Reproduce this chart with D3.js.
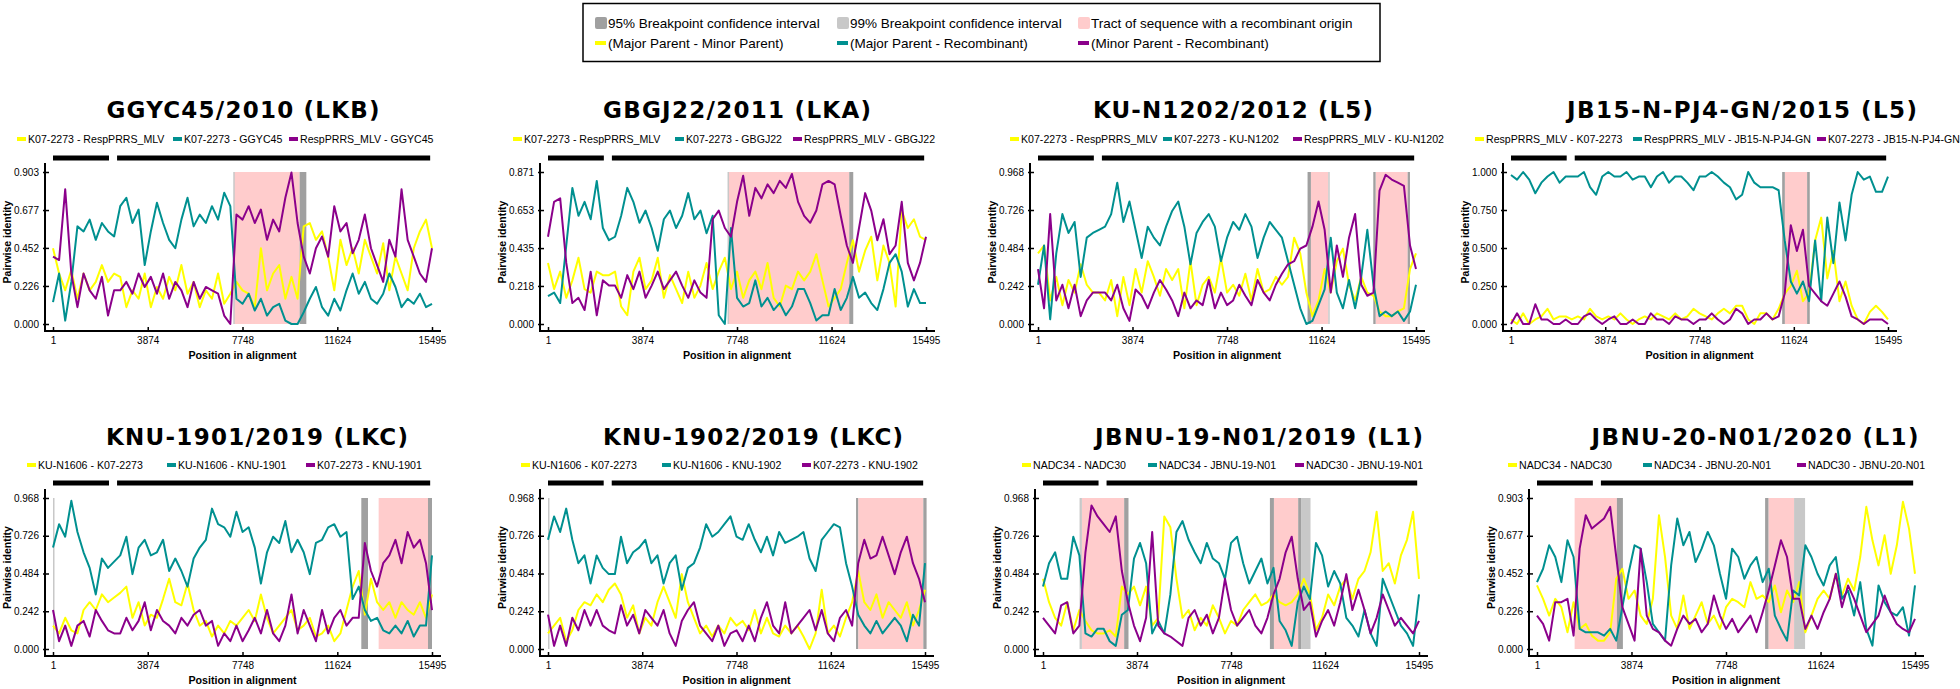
<!DOCTYPE html>
<html><head><meta charset="utf-8">
<script src="https://cdn.jsdelivr.net/npm/d3@7"></script>
<style>body{margin:0;background:#fff}svg{display:block}</style>
</head><body>
<script>
// ---------------- DATA ----------------
const POS = [1,250,500,750,1000,1250,1500,1750,2000,2250,2500,2750,3000,3250,3500,3750,4000,4250,4500,4750,5000,5250,5500,5750,6000,6250,6500,6750,7000,7250,7500,7750,8000,8250,8500,8750,9000,9250,9500,9750,10000,10250,10500,10750,11000,11250,11500,11750,12000,12250,12500,12750,13000,13250,13500,13750,14000,14250,14500,14750,15000,15250,15495];
const X_TICKS = [1,3874,7748,11624,15495];
const TITLES = ["GGYC45/2010 (LKB)","GBGJ22/2011 (LKA)","KU-N1202/2012 (L5)","JB15-N-PJ4-GN/2015 (L5)","KNU-1901/2019 (LKC)","KNU-1902/2019 (LKC)","JBNU-19-N01/2019 (L1)","JBNU-20-N01/2020 (L1)"];
const PAIR_LABELS = [
 ["K07-2273 - RespPRRS_MLV","K07-2273 - GGYC45","RespPRRS_MLV - GGYC45"],
 ["K07-2273 - RespPRRS_MLV","K07-2273 - GBGJ22","RespPRRS_MLV - GBGJ22"],
 ["K07-2273 - RespPRRS_MLV","K07-2273 - KU-N1202","RespPRRS_MLV - KU-N1202"],
 ["RespPRRS_MLV - K07-2273","RespPRRS_MLV - JB15-N-PJ4-GN","K07-2273 - JB15-N-PJ4-GN"],
 ["KU-N1606 - K07-2273","KU-N1606 - KNU-1901","K07-2273 - KNU-1901"],
 ["KU-N1606 - K07-2273","KU-N1606 - KNU-1902","K07-2273 - KNU-1902"],
 ["NADC34 - NADC30","NADC34 - JBNU-19-N01","NADC30 - JBNU-19-N01"],
 ["NADC34 - NADC30","NADC34 - JBNU-20-N01","NADC30 - JBNU-20-N01"]
];
const Y_TICKS = [
 [0,0.226,0.452,0.677,0.903],
 [0,0.218,0.435,0.653,0.871],
 [0,0.242,0.484,0.726,0.968],
 [0,0.25,0.5,0.75,1.0],
 [0,0.242,0.484,0.726,0.968],
 [0,0.242,0.484,0.726,0.968],
 [0,0.242,0.484,0.726,0.968],
 [0,0.226,0.452,0.677,0.903]
];
const SEQ_BARS = [[1,2290],[2620,15420]];
const REGIONS = [
 [["tract",7400,10084],["ci99",7370,7420],["ci95",10084,10357]],
 [["tract",7385,12349],["ci99",7360,7400],["ci95",12349,12513]],
 [["tract",11187,11897],["ci95",11050,11187],["ci99",11897,11950],["tract",13840,15153],["ci95",13744,13840],["ci95",15153,15248]],
 [["tract",11255,12171],["ci95",11146,11255],["ci95",12171,12280]],
 [["ci99",1,60],["ci95",12605,12878],["tract",13314,15331],["ci95",15331,15495]],
 [["ci99",1,50],["ci95",12661,12757],["tract",12757,15426],["ci95",15426,15560]],
 [["tract",1604,3346],["ci99",1508,1604],["ci95",3346,3524],["tract",9516,10517],["ci95",9351,9516],["ci95",10517,10654],["ci99",10654,11024]],
 [["tract",1543,3276],["ci95",3276,3522],["tract",9488,10539],["ci95",9351,9488],["ci99",10539,10989]]
];
const LEGEND_TOP_ROW1 = [["ci95","95% Breakpoint confidence interval"],["ci99","99% Breakpoint confidence interval"],["tract","Tract of sequence with a recombinant origin"]];
const LEGEND_TOP_ROW2 = ["(Major Parent - Minor Parent)","(Major Parent - Recombinant)","(Minor Parent - Recombinant)"];

const P1_YELLOW=[0.45,0.30,0.20,0.32,0.15,0.30,0.20,0.25,0.35,0.25,0.30,0.28,0.10,0.20,0.15,0.30,0.10,0.22,0.15,0.28,0.20,0.35,0.18,0.25,0.10,0.20,0.15,0.30,0.12,0.18,0.25,0.20,0.18,0.10,0.45,0.20,0.30,0.35,0.15,0.28,0.15,0.58,0.60,0.50,0.55,0.40,0.20,0.50,0.35,0.45,0.30,0.50,0.40,0.30,0.48,0.20,0.40,0.30,0.20,0.45,0.55,0.62,0.45];
const P1_TEAL=[0.13,0.30,0.02,0.25,0.58,0.55,0.62,0.50,0.60,0.55,0.52,0.70,0.75,0.60,0.68,0.35,0.55,0.72,0.60,0.50,0.45,0.62,0.75,0.58,0.65,0.60,0.70,0.62,0.78,0.70,0.15,0.12,0.18,0.08,0.15,0.05,0.10,0.12,0.02,0.00,0.00,0.07,0.15,0.22,0.10,0.05,0.15,0.08,0.20,0.30,0.18,0.25,0.15,0.12,0.18,0.30,0.22,0.10,0.15,0.12,0.18,0.10,0.12];
const P1_PURPLE=[0.40,0.38,0.80,0.30,0.10,0.30,0.20,0.15,0.28,0.05,0.20,0.20,0.25,0.18,0.30,0.22,0.28,0.18,0.30,0.15,0.25,0.20,0.10,0.25,0.15,0.22,0.20,0.18,0.05,0.00,0.65,0.62,0.70,0.60,0.68,0.50,0.62,0.55,0.75,0.90,0.60,0.40,0.30,0.45,0.52,0.40,0.70,0.55,0.60,0.42,0.50,0.65,0.45,0.35,0.25,0.50,0.40,0.80,0.50,0.40,0.30,0.25,0.45];

const P2_YELLOW=[0.35,0.20,0.30,0.15,0.25,0.38,0.20,0.18,0.30,0.28,0.28,0.30,0.10,0.05,0.30,0.38,0.20,0.25,0.38,0.15,0.28,0.20,0.12,0.30,0.15,0.22,0.35,0.20,0.30,0.38,0.20,0.30,0.15,0.25,0.30,0.20,0.35,0.15,0.10,0.22,0.20,0.30,0.25,0.30,0.40,0.25,0.10,0.15,0.20,0.35,0.48,0.30,0.42,0.50,0.25,0.45,0.35,0.10,0.65,0.55,0.60,0.50,0.48];
const P2_TEAL=[0.16,0.18,0.12,0.45,0.78,0.62,0.70,0.60,0.82,0.55,0.48,0.50,0.62,0.78,0.70,0.58,0.65,0.55,0.42,0.60,0.65,0.55,0.62,0.75,0.60,0.65,0.52,0.62,0.05,0.00,0.55,0.15,0.10,0.12,0.25,0.10,0.15,0.08,0.12,0.05,0.10,0.20,0.20,0.12,0.02,0.05,0.05,0.20,0.08,0.15,0.27,0.15,0.18,0.12,0.08,0.20,0.35,0.40,0.30,0.10,0.20,0.12,0.12];
const P2_PURPLE=[0.50,0.70,0.72,0.35,0.12,0.15,0.08,0.30,0.05,0.25,0.22,0.22,0.15,0.28,0.20,0.30,0.15,0.22,0.30,0.20,0.25,0.30,0.22,0.15,0.25,0.18,0.15,0.60,0.65,0.55,0.50,0.70,0.85,0.62,0.78,0.72,0.80,0.75,0.82,0.78,0.86,0.70,0.62,0.58,0.65,0.80,0.82,0.80,0.62,0.45,0.35,0.55,0.75,0.65,0.48,0.60,0.40,0.45,0.70,0.35,0.25,0.35,0.50];

const P3_YELLOW=[0.45,0.50,0.15,0.30,0.12,0.28,0.20,0.38,0.25,0.20,0.20,0.15,0.28,0.05,0.30,0.12,0.35,0.20,0.40,0.30,0.18,0.35,0.28,0.35,0.10,0.40,0.12,0.25,0.30,0.20,0.42,0.20,0.25,0.18,0.32,0.15,0.35,0.20,0.22,0.30,0.25,0.30,0.55,0.45,0.20,0.05,0.15,0.35,0.20,0.40,0.48,0.25,0.15,0.30,0.20,0.18,0.08,0.05,0.05,0.08,0.10,0.35,0.45];
const P3_TEAL=[0.25,0.50,0.03,0.45,0.70,0.58,0.65,0.30,0.55,0.58,0.60,0.62,0.70,0.90,0.65,0.78,0.60,0.42,0.62,0.55,0.50,0.62,0.72,0.78,0.62,0.38,0.58,0.65,0.70,0.62,0.40,0.55,0.65,0.60,0.70,0.62,0.42,0.55,0.65,0.60,0.55,0.40,0.25,0.10,0.00,0.02,0.12,0.22,0.55,0.20,0.10,0.28,0.10,0.30,0.60,0.25,0.05,0.08,0.05,0.08,0.02,0.08,0.25];
const P3_PURPLE=[0.35,0.10,0.70,0.15,0.25,0.10,0.25,0.05,0.15,0.20,0.20,0.20,0.15,0.25,0.10,0.02,0.22,0.18,0.10,0.20,0.28,0.22,0.15,0.05,0.20,0.10,0.15,0.12,0.28,0.10,0.20,0.12,0.15,0.25,0.18,0.12,0.28,0.20,0.15,0.25,0.32,0.38,0.40,0.48,0.50,0.62,0.78,0.60,0.20,0.50,0.30,0.55,0.70,0.25,0.18,0.20,0.85,0.95,0.92,0.90,0.88,0.50,0.35];

const P4_YELLOW=[0.03,0.00,0.07,0.00,0.03,0.05,0.10,0.03,0.05,0.05,0.03,0.05,0.03,0.10,0.05,0.03,0.05,0.03,0.07,0.03,0.00,0.03,0.05,0.03,0.07,0.05,0.03,0.07,0.03,0.05,0.10,0.07,0.05,0.03,0.07,0.10,0.07,0.12,0.12,0.03,0.00,0.07,0.07,0.03,0.10,0.20,0.25,0.35,0.15,0.20,0.55,0.70,0.30,0.48,0.15,0.28,0.12,0.03,0.00,0.08,0.12,0.08,0.03];
const P4_TEAL=[0.98,0.95,1.00,0.95,0.86,0.93,0.97,1.00,0.93,0.97,0.97,0.97,1.00,0.90,0.85,0.97,1.00,0.97,0.97,1.00,0.95,0.97,0.97,0.90,0.97,1.00,0.93,0.97,0.97,0.93,0.88,0.97,0.97,1.00,0.97,0.93,0.90,0.82,0.85,1.00,0.93,0.90,0.90,0.90,0.88,0.55,0.28,0.20,0.28,0.15,0.55,0.15,0.70,0.40,0.80,0.55,0.85,1.00,0.95,0.97,0.87,0.87,0.97];
const P4_PURPLE=[0.00,0.07,0.00,0.00,0.13,0.03,0.03,0.00,0.00,0.03,0.00,0.00,0.05,0.07,0.03,0.00,0.03,0.05,0.00,0.00,0.03,0.00,0.00,0.07,0.03,0.03,0.00,0.05,0.03,0.03,0.00,0.03,0.03,0.07,0.03,0.00,0.03,0.10,0.07,0.00,0.03,0.03,0.07,0.03,0.05,0.20,0.65,0.48,0.62,0.25,0.20,0.15,0.12,0.20,0.28,0.18,0.05,0.03,0.00,0.03,0.03,0.03,0.00];

const P5_YELLOW=[0.15,0.10,0.20,0.12,0.10,0.25,0.30,0.25,0.35,0.30,0.33,0.36,0.40,0.20,0.30,0.15,0.22,0.20,0.32,0.45,0.30,0.28,0.42,0.25,0.15,0.18,0.08,0.15,0.10,0.18,0.15,0.20,0.25,0.18,0.35,0.20,0.10,0.15,0.20,0.25,0.12,0.15,0.20,0.08,0.10,0.15,0.05,0.10,0.25,0.40,0.50,0.22,0.45,0.30,0.25,0.30,0.20,0.30,0.25,0.22,0.30,0.20,0.35];
const P5_TEAL=[0.65,0.80,0.72,0.95,0.75,0.62,0.52,0.35,0.58,0.52,0.56,0.60,0.72,0.48,0.65,0.70,0.60,0.62,0.70,0.50,0.58,0.50,0.40,0.58,0.65,0.70,0.90,0.80,0.78,0.72,0.88,0.75,0.78,0.65,0.42,0.62,0.72,0.68,0.82,0.62,0.70,0.62,0.48,0.68,0.70,0.78,0.80,0.72,0.75,0.32,0.40,0.25,0.18,0.20,0.12,0.10,0.15,0.10,0.18,0.08,0.15,0.15,0.60];
const P5_PURPLE=[0.25,0.05,0.15,0.02,0.15,0.18,0.08,0.25,0.18,0.12,0.10,0.10,0.20,0.12,0.18,0.30,0.12,0.25,0.18,0.15,0.10,0.20,0.15,0.22,0.25,0.15,0.18,0.02,0.10,0.05,0.15,0.05,0.12,0.20,0.10,0.25,0.10,0.05,0.15,0.35,0.10,0.25,0.15,0.05,0.25,0.10,0.20,0.25,0.15,0.20,0.20,0.68,0.50,0.40,0.55,0.60,0.70,0.55,0.75,0.65,0.70,0.55,0.25];

const P6_YELLOW=[0.10,0.15,0.20,0.05,0.12,0.25,0.30,0.28,0.35,0.30,0.38,0.42,0.35,0.20,0.28,0.10,0.20,0.15,0.30,0.40,0.30,0.20,0.48,0.30,0.20,0.10,0.15,0.08,0.15,0.10,0.20,0.15,0.18,0.12,0.25,0.10,0.20,0.10,0.08,0.15,0.10,0.15,0.08,0.00,0.10,0.38,0.10,0.15,0.08,0.20,0.30,0.50,0.30,0.25,0.35,0.20,0.30,0.25,0.20,0.30,0.15,0.25,0.38];
const P6_TEAL=[0.70,0.85,0.75,0.90,0.70,0.55,0.60,0.42,0.60,0.52,0.48,0.48,0.72,0.55,0.62,0.65,0.70,0.55,0.60,0.42,0.55,0.60,0.38,0.52,0.55,0.65,0.80,0.72,0.75,0.80,0.85,0.72,0.70,0.80,0.70,0.62,0.72,0.60,0.75,0.68,0.70,0.72,0.75,0.58,0.50,0.70,0.75,0.80,0.78,0.55,0.40,0.22,0.15,0.10,0.18,0.10,0.15,0.20,0.15,0.05,0.22,0.15,0.55];
const P6_PURPLE=[0.22,0.02,0.15,0.02,0.20,0.12,0.25,0.15,0.25,0.15,0.12,0.10,0.28,0.15,0.22,0.10,0.25,0.20,0.15,0.25,0.10,0.02,0.18,0.25,0.30,0.15,0.10,0.05,0.15,0.02,0.10,0.12,0.05,0.15,0.05,0.20,0.30,0.15,0.10,0.30,0.10,0.15,0.20,0.25,0.12,0.25,0.10,0.05,0.20,0.25,0.15,0.55,0.70,0.58,0.60,0.72,0.60,0.48,0.62,0.72,0.55,0.45,0.30];

const P7_YELLOW=[0.45,0.30,0.20,0.15,0.30,0.12,0.25,0.18,0.12,0.10,0.10,0.12,0.08,0.40,0.35,0.40,0.28,0.40,0.15,0.20,0.85,0.78,0.45,0.20,0.25,0.12,0.20,0.15,0.28,0.20,0.10,0.18,0.15,0.25,0.30,0.35,0.28,0.30,0.35,0.30,0.28,0.30,0.35,0.45,0.35,0.12,0.20,0.35,0.28,0.40,0.45,0.32,0.45,0.50,0.62,0.88,0.50,0.55,0.42,0.60,0.70,0.88,0.45];
const P7_TEAL=[0.40,0.55,0.62,0.45,0.45,0.72,0.60,0.10,0.08,0.13,0.13,0.05,0.02,0.22,0.25,0.58,0.68,0.55,0.10,0.18,0.10,0.35,0.75,0.82,0.70,0.62,0.55,0.68,0.58,0.55,0.45,0.68,0.72,0.55,0.42,0.50,0.58,0.42,0.52,0.18,0.12,0.02,0.30,0.40,0.32,0.68,0.60,0.40,0.50,0.42,0.20,0.15,0.08,0.25,0.10,0.02,0.45,0.35,0.25,0.15,0.10,0.02,0.35];
const P7_PURPLE=[0.20,0.15,0.10,0.28,0.30,0.10,0.15,0.62,0.92,0.85,0.80,0.75,0.85,0.50,0.30,0.15,0.05,0.20,0.75,0.15,0.10,0.08,0.05,0.02,0.20,0.25,0.15,0.22,0.10,0.20,0.45,0.25,0.15,0.20,0.25,0.15,0.10,0.20,0.35,0.45,0.62,0.72,0.45,0.25,0.30,0.08,0.18,0.25,0.15,0.30,0.48,0.25,0.38,0.25,0.10,0.20,0.35,0.25,0.15,0.20,0.15,0.10,0.18];

const P8_YELLOW=[0.38,0.30,0.20,0.30,0.25,0.10,0.28,0.12,0.15,0.08,0.05,0.05,0.10,0.42,0.48,0.30,0.35,0.20,0.15,0.30,0.80,0.55,0.20,0.12,0.32,0.12,0.20,0.28,0.15,0.20,0.12,0.25,0.30,0.28,0.25,0.40,0.30,0.32,0.28,0.38,0.22,0.35,0.28,0.40,0.10,0.20,0.30,0.35,0.30,0.45,0.32,0.42,0.35,0.55,0.85,0.65,0.50,0.68,0.45,0.62,0.88,0.72,0.45];
const P8_TEAL=[0.40,0.48,0.62,0.55,0.40,0.65,0.55,0.12,0.10,0.10,0.10,0.08,0.12,0.05,0.25,0.45,0.62,0.60,0.40,0.15,0.10,0.05,0.50,0.78,0.62,0.70,0.52,0.60,0.70,0.62,0.45,0.30,0.60,0.55,0.42,0.50,0.55,0.40,0.48,0.20,0.12,0.05,0.35,0.32,0.62,0.55,0.45,0.38,0.50,0.55,0.30,0.35,0.20,0.40,0.12,0.02,0.38,0.28,0.22,0.20,0.25,0.08,0.38];
const P8_PURPLE=[0.20,0.15,0.05,0.28,0.28,0.30,0.08,0.60,0.80,0.72,0.75,0.78,0.85,0.55,0.25,0.15,0.05,0.60,0.20,0.12,0.10,0.05,0.02,0.12,0.20,0.15,0.18,0.10,0.15,0.32,0.20,0.12,0.18,0.10,0.15,0.20,0.10,0.22,0.35,0.50,0.65,0.55,0.30,0.30,0.12,0.20,0.12,0.22,0.30,0.45,0.25,0.38,0.30,0.20,0.10,0.15,0.20,0.32,0.22,0.15,0.12,0.10,0.18];

const SERIES = [
 [P1_YELLOW,P1_TEAL,P1_PURPLE],[P2_YELLOW,P2_TEAL,P2_PURPLE],
 [P3_YELLOW,P3_TEAL,P3_PURPLE],[P4_YELLOW,P4_TEAL,P4_PURPLE],
 [P5_YELLOW,P5_TEAL,P5_PURPLE],[P6_YELLOW,P6_TEAL,P6_PURPLE],
 [P7_YELLOW,P7_TEAL,P7_PURPLE],[P8_YELLOW,P8_TEAL,P8_PURPLE]
];

// ---------------- LAYOUT / STYLE ----------------
const LINE_COLORS = ["#ffff00","#009090","#8b008b"];
const REGION_COLORS = {tract:"#ffcccc", ci95:"#a0a0a0", ci99:"#c8c8c8"};
const ROWS = [
 {top:172, base:324, axis:331, title:118, legend:139, bar:158},
 {top:498, base:649, axis:656, title:445, legend:465, bar:483}
];
const LAYOUT = [
 {x1:53,  x2:432,  row:0, tc:243,  tw:273, lg:[17,173,289]},
 {x1:548, x2:926,  row:0, tc:737,  tw:268, lg:[513,675,793]},
 {x1:1038,x2:1416, row:0, tc:1233, tw:280, lg:[1010,1163,1293]},
 {x1:1511,x2:1888, row:0, tc:1742, tw:350, lg:[1475,1633,1817]},
 {x1:53,  x2:432,  row:1, tc:257,  tw:302, lg:[27,167,306]},
 {x1:548, x2:925,  row:1, tc:753,  tw:300, lg:[521,662,802]},
 {x1:1043,x2:1419, row:1, tc:1259, tw:328, lg:[1022,1148,1295]},
 {x1:1537,x2:1915, row:1, tc:1755, tw:327, lg:[1508,1643,1797]}
];
const SANS = "'Liberation Sans', Arial, sans-serif";

const svg = d3.select("body").append("svg").attr("width",1960).attr("height",689);
svg.append("rect").attr("width",1960).attr("height",689).attr("fill","#fff");

// ---------- top legend ----------
const lg = svg.append("g");
lg.append("rect").attr("x",583).attr("y",3.5).attr("width",797).attr("height",58).attr("fill","#fff").attr("stroke","#000").attr("stroke-width",1.5);
const row1X = [595,837,1078];
LEGEND_TOP_ROW1.forEach((d,i)=>{
  lg.append("rect").attr("x",row1X[i]).attr("y",17).attr("width",12).attr("height",12).attr("rx",2).attr("fill",REGION_COLORS[d[0]]);
  lg.append("text").attr("x",row1X[i]+13).attr("y",28).attr("font-family",SANS).attr("font-size",13.5).text(d[1]);
});
LEGEND_TOP_ROW2.forEach((t,i)=>{
  lg.append("rect").attr("x",row1X[i]).attr("y",41).attr("width",11).attr("height",4).attr("fill",LINE_COLORS[i]);
  lg.append("text").attr("x",row1X[i]+13).attr("y",48).attr("font-family",SANS).attr("font-size",13.5).text(t);
});

// ---------- panels ----------
LAYOUT.forEach((L,p)=>{
  const R = ROWS[L.row];
  const ticks = Y_TICKS[p];
  const yMax = ticks[ticks.length-1];
  const x = d3.scaleLinear().domain([1,15495]).range([L.x1,L.x2]);
  const y = d3.scaleLinear().domain([0,yMax]).range([R.base,R.top]);
  const axisX = L.x1 - 8;
  const g = svg.append("g");

  // title
  g.append("text").attr("x",L.tc).attr("y",R.title).attr("text-anchor","middle")
   .attr("font-family","'DejaVu Sans', Verdana, sans-serif").attr("font-weight","bold").attr("font-size",23)
   .attr("textLength",L.tw).attr("lengthAdjust","spacing").text(TITLES[p]);

  // legend
  PAIR_LABELS[p].forEach((t,i)=>{
    g.append("rect").attr("x",L.lg[i]).attr("y",R.legend-2).attr("width",9).attr("height",4).attr("fill",LINE_COLORS[i]);
    g.append("text").attr("x",L.lg[i]+11).attr("y",R.legend+3.8).attr("font-family",SANS).attr("font-size",10.6).text(t);
  });

  // sequence bars
  g.selectAll("rect.seq").data(SEQ_BARS).join("rect").attr("class","seq")
   .attr("x",d=>x(d[0])).attr("width",d=>x(d[1])-x(d[0])).attr("y",R.bar-2.5).attr("height",5).attr("fill","#000");

  // regions
  g.selectAll("rect.reg").data(REGIONS[p]).join("rect").attr("class","reg")
   .attr("x",d=>x(d[1])).attr("width",d=>Math.max(1.5,x(d[2])-x(d[1])))
   .attr("y",y(yMax)).attr("height",y(0)-y(yMax)).attr("fill",d=>REGION_COLORS[d[0]]);

  // lines
  const line = d3.line().x((d,i)=>x(POS[i])).y(d=>y(Math.min(d,yMax))).curve(d3.curveLinear);
  SERIES[p].forEach((s,i)=>{
    g.append("path").datum(s).attr("d",line).attr("fill","none")
     .attr("stroke",LINE_COLORS[i]).attr("stroke-width",2).attr("stroke-linejoin","round");
  });

  // y axis
  const ya = g.append("g").attr("transform",`translate(${axisX},0)`)
    .call(d3.axisLeft(y).tickValues(ticks).tickFormat(d3.format(".3f")).tickSizeInner(-4).tickSizeOuter(0).tickPadding(6));
  ya.select(".domain").remove();
  ya.selectAll(".tick line").attr("stroke","#000").attr("stroke-width",1.5).attr("x1",-2);
  ya.selectAll(".tick text").attr("font-family",SANS).attr("font-size",10).attr("fill","#000");

  // x axis
  const xa = g.append("g").attr("transform",`translate(0,${R.axis})`)
    .call(d3.axisBottom(x).tickValues(X_TICKS).tickFormat(d3.format("d")).tickSizeInner(-4).tickSizeOuter(0).tickPadding(6));
  xa.select(".domain").remove();
  xa.selectAll(".tick line").attr("stroke","#000").attr("stroke-width",1.5);
  xa.selectAll(".tick text").attr("font-family",SANS).attr("font-size",10).attr("fill","#000");

  // axis lines
  g.append("line").attr("x1",axisX).attr("x2",axisX).attr("y1",R.top-9).attr("y2",R.axis+1).attr("stroke","#000").attr("stroke-width",2);
  g.append("line").attr("x1",axisX-1).attr("x2",L.x2+9).attr("y1",R.axis).attr("y2",R.axis).attr("stroke","#000").attr("stroke-width",2);

  // axis titles
  g.append("text").attr("x",(L.x1+L.x2)/2).attr("y",R.axis+28).attr("text-anchor","middle")
   .attr("font-family",SANS).attr("font-weight","bold").attr("font-size",10.7).text("Position in alignment");
  const cy = (R.top+R.base)/2 - 6;
  g.append("text").attr("transform",`translate(${axisX-34},${cy}) rotate(-90)`).attr("text-anchor","middle")
   .attr("font-family",SANS).attr("font-weight","bold").attr("font-size",10.5).text("Pairwise identity");
});
</script>
</body></html>
